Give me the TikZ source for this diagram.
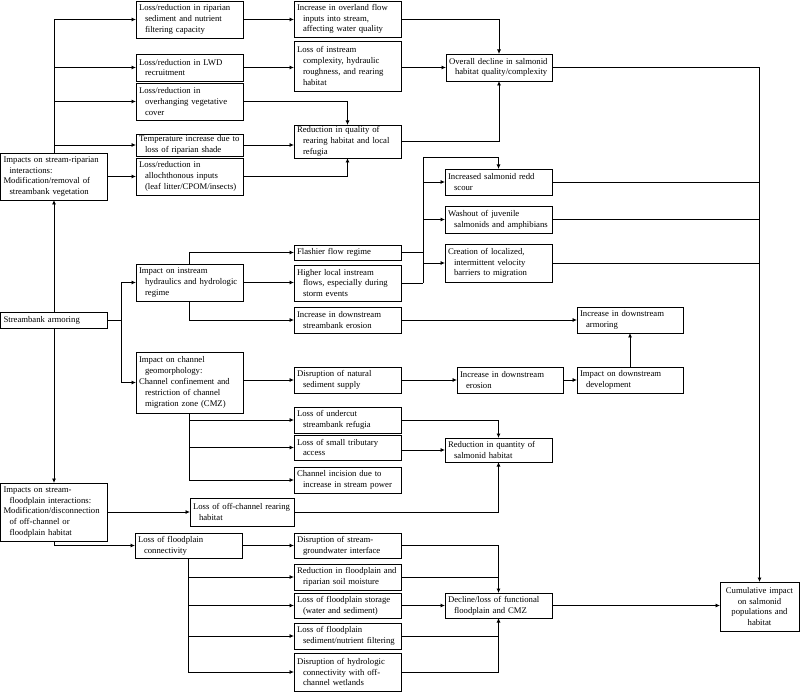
\documentclass[tikz,border=0pt]{standalone}
\usepackage{fontspec}
\setmainfont{Liberation Serif}
\usetikzlibrary{arrows.meta}
\newcommand\myind{\hspace*{6pt}}
\newcommand\bx[6]{\node[bx, minimum width=#4pt, minimum height=#5pt, text width=\the\numexpr#4-6\relax pt] (#1) at (#2,#3) {#6};}
\begin{document}
\begin{tikzpicture}[x=1pt,y=-1pt,
  line width=0.8pt,
  bx/.style={draw, line width=0.8pt, anchor=north west, align=left, inner xsep=3pt, inner ysep=1pt, outer sep=0pt, font=\fontsize{8.7}{10.8}\selectfont},
  arr/.style={-{Latex[length=4.5pt,width=4pt]}}]
\fill[white] (0,0) rectangle (800,692);
\useasboundingbox (0,0) rectangle (800,692);

% left column
\bx{rip}{0.5}{153}{107}{47}{Impacts on stream-riparian\\\myind interactions:\\Modification/removal of\\\myind streambank vegetation}
\bx{arm}{0.5}{312}{107}{16}{Streambank armoring}
\bx{fp}{0.5}{483}{107}{58}{Impacts on stream-\\\myind floodplain interactions:\\Modification/disconnection\\\myind of off-channel or\\\myind floodplain habitat}

% second column
\bx{A1}{136}{1}{107}{37}{Loss/reduction in riparian\\\myind sediment and nutrient\\\myind filtering capacity}
\bx{A2}{136}{54}{107}{27}{Loss/reduction in LWD\\\myind recruitment}
\bx{A3}{136}{83}{107}{37}{Loss/reduction in\\\myind overhanging vegetative\\\myind cover}
\bx{A4}{136}{134}{107}{22}{Temperature increase due to\\\myind loss of riparian shade}
\bx{A5}{136}{158}{107}{37}{Loss/reduction in\\\myind allochthonous inputs\\\myind (leaf litter/CPOM/insects)}
\bx{hyd}{136}{264}{107}{37}{Impact on instream\\\myind hydraulics and hydrologic\\\myind regime}
\bx{geo}{136}{352}{107}{61}{Impact on channel\\\myind geomorphology:\\Channel confinement and\\\myind restriction of channel\\\myind migration zone (CMZ)}
\bx{offc}{190}{498}{104}{28}{Loss of off-channel rearing\\\myind habitat}
\bx{fpc}{135}{533}{107}{25}{Loss of floodplain\\\myind connectivity}

% third column
\bx{B1}{294}{1}{107}{36}{Increase in overland flow\\\myind inputs into stream,\\\myind affecting water quality}
\bx{B2}{294}{41}{107}{50}{Loss of instream\\\myind complexity, hydraulic\\\myind roughness, and rearing\\\myind habitat}
\bx{B3}{294}{125}{107}{33}{Reduction in quality of\\\myind rearing habitat and local\\\myind refugia}
\bx{flash}{294}{245}{107}{15}{Flashier flow regime}
\bx{higher}{294}{265}{107}{36}{Higher local instream\\\myind flows, especially during\\\myind storm events}
\bx{idse}{294}{307}{107}{26}{Increase in downstream\\\myind streambank erosion}
\bx{sed}{294}{367}{107}{26}{Disruption of natural\\\myind sediment supply}
\bx{undercut}{294}{407}{107}{26}{Loss of undercut\\\myind streambank refugia}
\bx{trib}{294}{435}{107}{25}{Loss of small tributary\\\myind access}
\bx{incis}{294}{467}{107}{26}{Channel incision due to\\\myind increase in stream power}
\bx{gw}{294}{533}{107}{25}{Disruption of stream-\\\myind groundwater interface}
\bx{soil}{294}{564}{107}{26}{Reduction in floodplain and\\\myind riparian soil moisture}
\bx{stor}{294}{593}{107}{25}{Loss of floodplain storage\\\myind (water and sediment)}
\bx{filt}{294}{623}{107}{26}{Loss of floodplain\\\myind sediment/nutrient filtering}
\bx{hydro}{294}{653}{107}{38}{Disruption of hydrologic\\\myind connectivity with off-\\\myind channel wetlands}

% fourth column
\bx{C}{446}{54}{106}{27}{Overall decline in salmonid\\\myind habitat quality/complexity}
\bx{redd}{445}{169}{107}{26}{Increased salmonid redd\\\myind scour}
\bx{wash}{445}{206}{107}{27}{Washout of juvenile\\\myind salmonids and amphibians}
\bx{creat}{445}{244}{107}{38}{Creation of localized,\\\myind intermittent velocity\\\myind barriers to migration}
\bx{dse}{457}{367}{106}{26}{Increase in downstream\\\myind erosion}
\bx{rqs}{445}{438}{107}{24}{Reduction in quantity of\\\myind salmonid habitat}
\bx{decl}{445}{593}{107}{25}{Decline/loss of functional\\\myind floodplain and CMZ}

% fifth column
\bx{armr}{577}{307}{106}{26}{Increase in downstream\\\myind armoring}
\bx{dev}{577}{367}{106}{26}{Impact on downstream\\\myind development}
\node[bx, align=center, minimum width=79pt, minimum height=49pt, text width=73pt] (cum) at (720,582) {Cumulative impact\\on salmonid\\populations and\\habitat};

% --- connectors: riparian branch
\draw[arr] (arm.north) -- (rip.south);
\draw[arr] (rip.north) |- (A1.west);
\draw[arr] (rip.north |- A2.west) -- (A2.west);
\draw[arr] (rip.north |- A3.west) -- (A3.west);
\draw[arr] (rip.north |- A4.west) -- (A4.west);
\draw[arr] (A5.west -| rip.east) -- (A5.west);
\draw[arr] (A1.east) -- (A1.east -| B1.west);
\draw[arr] (A2.east) -- (A2.east -| B2.west);
\draw[arr] (A3.east) -| (B3.north);
\draw[arr] (A4.east) -- (A4.east -| B3.west);
\draw[arr] (A5.east) -| (B3.south);
\draw[arr] (B1.east) -| (C.north);
\draw[arr] (C.west -| B2.east) -- (C.west);
\draw[arr] (B3.east) -| (C.south);
\draw[arr] (C.east) -| (cum.north);

% --- instream branch
\path (arm.east) ++(13.5,0) coordinate (busA);
\draw (arm.east) -- (busA);
\draw[arr] (busA) |- (hyd.west);
\draw[arr] (busA) |- (geo.west);
\draw[arr] (hyd.north) |- (flash.west);
\draw[arr] (hyd.east) -- (hyd.east -| higher.west);
\draw[arr] (hyd.south) |- (idse.west);
\coordinate (busB) at (423,157);
\draw (flash.east) -- (flash.east -| busB);
\draw (higher.east) -- (higher.east -| busB);
\draw (busB) -- (busB |- higher.east);
\draw[arr] (busB) -| (redd.north);
\draw[arr] (busB |- redd.west) -- (redd.west);
\draw[arr] (busB |- wash.west) -- (wash.west);
\draw[arr] (busB |- creat.west) -- (creat.west);
\draw (redd.east) -- (redd.east -| cum.north);
\draw (wash.east) -- (wash.east -| cum.north);
\draw (creat.east) -- (creat.east -| cum.north);
\draw[arr] (idse.east) -- (idse.east -| armr.west);
\draw[arr] (sed.west -| geo.east) -- (sed.west);
\draw[arr] (sed.east) -- (dse.west);
\draw[arr] (dse.east) -- (dev.west);
\draw[arr] (dev.north) -- (armr.south);
\draw[arr] (geo.south) |- (undercut.west);
\draw[arr] (geo.south) |- (trib.west);
\draw[arr] (geo.south) |- (incis.west);
\draw[arr] (undercut.east) -| (rqs.north);
\draw[arr] (rqs.west -| trib.east) -- (rqs.west);
\draw[arr] (offc.east) -| (rqs.south);

% --- floodplain branch
\draw[arr] (arm.south) -- (fp.north);
\draw[arr] (fp.east) -- (fp.east -| offc.west);
\draw[arr] (fp.south) |- (fpc.west);
\draw[arr] (fpc.east) -- (fpc.east -| gw.west);
\draw[arr] (fpc.south) |- (soil.west);
\draw[arr] (fpc.south) |- (stor.west);
\draw[arr] (fpc.south) |- (filt.west);
\draw[arr] (fpc.south) |- (hydro.west);
\draw[arr] (gw.east) -| (decl.north);
\draw (soil.east) -- (soil.east -| decl.north);
\draw[arr] (stor.east) -- (stor.east -| decl.west);
\draw (filt.east) -- (filt.east -| decl.south);
\draw[arr] (hydro.east) -| (decl.south);
\draw[arr] (decl.east) -- (decl.east -| cum.west);
\end{tikzpicture}
\end{document}
